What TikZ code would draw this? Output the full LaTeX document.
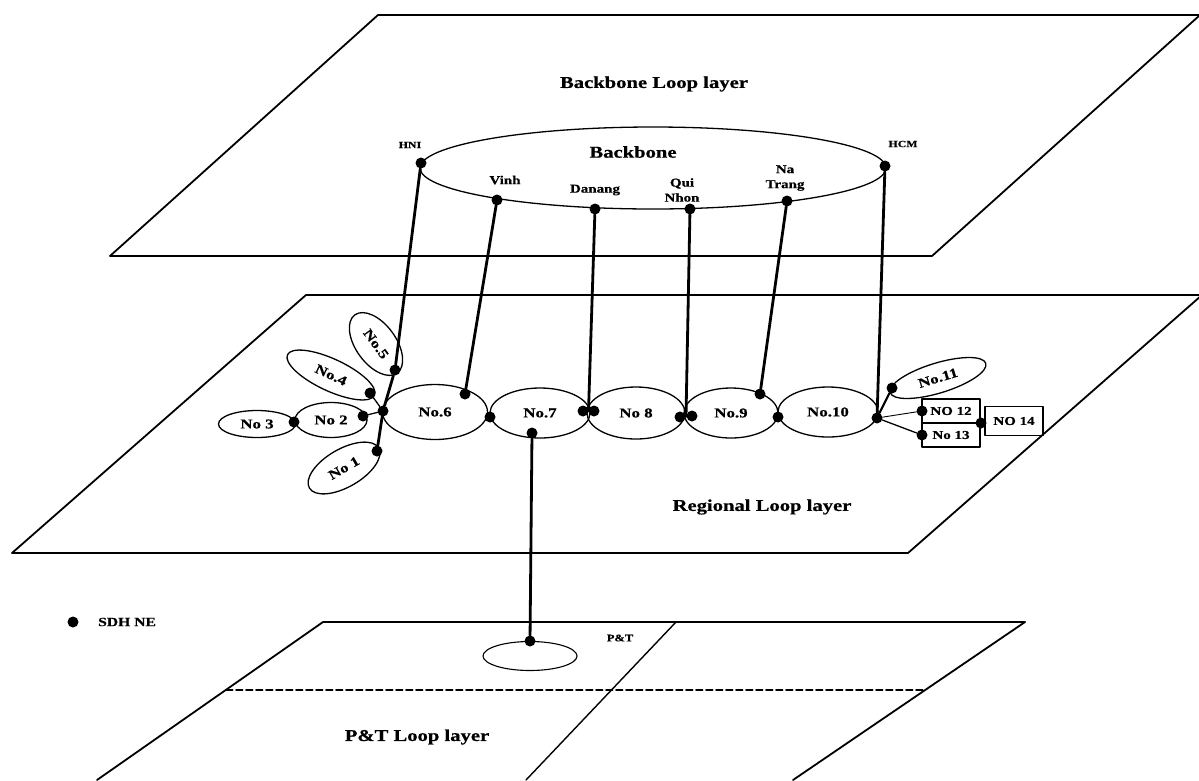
\documentclass[tikz,border=0pt]{standalone}
\usepackage{fontspec}
\setmainfont{Liberation Serif}[FakeStretch=1.25,BoldFeatures={FakeBold=0.6}]
\usetikzlibrary{shapes.geometric,calc}

\begin{document}
\begin{tikzpicture}[x=1pt,y=-1pt,line cap=round,line join=round,
  ne/.style={circle,fill=black,inner sep=0pt,minimum size=11pt},
  ring/.style={ellipse,draw,line width=1.3pt,inner sep=0pt,font=\bfseries\fontsize{13.5}{13.5}\selectfont},
  box/.style={rectangle,draw,line width=1.2pt,minimum width=58pt,inner sep=0pt,font=\bfseries\fontsize{12}{12}\selectfont},
  link/.style={line width=2.8pt},
  thinlink/.style={line width=1.3pt},
  edge/.style={line width=1.8pt},
  rim/.style={line width=1.1pt},
  city/.style={font=\bfseries\fontsize{12}{15}\selectfont,align=center,inner sep=0pt},
  title/.style={font=\bfseries\fontsize{16.5}{16.5}\selectfont,inner sep=0pt}]
  \useasboundingbox (0,0) rectangle (1199,780);
  \clip (0,0) rectangle (1199,780);
  % --- backbone layer plane ---
  \coordinate (T1) at (110,256);
  \coordinate (T2) at (932,256);
  \coordinate (T3) at (1200,15);
  \coordinate (T4) at (378,15);
  \draw[edge] (T1) -- (T4);
  \draw[edge] (T2) -- (T3);
  \draw[rim] (T4) -- (T3);
  \draw[rim] (T1) -- (T2);
  \node[title] (toptitle) at (654,84) {Backbone Loop layer};
  % --- regional layer plane ---
  \coordinate (M1) at (12,553);
  \coordinate (M2) at (908,553);
  \coordinate (M3) at (1202,295);
  \coordinate (M4) at (306,295);
  \draw[edge] (M1) -- (M4);
  \draw[edge] (M2) -- (M3);
  \draw[rim] (M4) -- (M3);
  \draw[rim] (M1) -- (M2);
  \node[title] (midtitle) at (762,507) {Regional Loop layer};
  % --- P&T layer plane ---
  \coordinate (B1) at (97,780);
  \coordinate (B2) at (323,622);
  \coordinate (B3) at (1025,622);
  \coordinate (B4) at (793,780);
  \coordinate (B5) at (676,622);
  \coordinate (B6) at (526,780);
  \draw[edge] (B1) -- (B2);
  \draw[edge] (B3) -- (B4);
  \draw[edge,line width=1.4pt] (B5) -- (B6);
  \draw[rim] (B2) -- (B3);
  \draw[rim,dashed,dash pattern=on 7pt off 3pt] ($(B2)!0.43!(B1)$) -- ($(B3)!0.43!(B4)$);
  \node[title] (bottitle) at (417,737) {P\&T Loop layer};
  % --- backbone ring ---
  \node[ellipse,draw,line width=1.3pt,minimum width=466pt,minimum height=82pt] (bb) at (653,168) {};
  \node[title] (bblabel) at (633,152) {Backbone};
  \node[ne] (hni) at (421,163) {};
  \node[ne] (hcm) at (885,166) {};
  \node[ne] (vinh) at (497,200) {};
  \node[ne] (danang) at (595,209) {};
  \node[ne] (quinhon) at (690,209) {};
  \node[ne] (natrang) at (787,201) {};
  \node[city,font=\bfseries\fontsize{9.5}{9.5}\selectfont] at (410,145) {HNI};
  \node[city,font=\bfseries\fontsize{9.5}{9.5}\selectfont] at (903,144) {HCM};
  \node[city] at (505,180) {Vinh};
  \node[city] at (595,190) {Danang};
  \node[city] at (682,190) {Qui\\Nhon};
  \node[city] at (785,178) {Na\\Trang};
  % --- regional rings ---
  \node[ring,minimum width=80pt,minimum height=38pt,rotate=30] (n1) at (344,468) {No 1};
  \node[ring,minimum width=72pt,minimum height=35pt] (n2) at (331,420) {No 2};
  \node[ring,minimum width=77pt,minimum height=27pt] (n3) at (257,424) {No 3};
  \node[ring,minimum width=96pt,minimum height=32pt,rotate=-25] (n4) at (331,375) {No.4};
  \node[ring,minimum width=72pt,minimum height=40pt,rotate=-54] (n5) at (376,344) {No.5};
  \node[ring,minimum width=105pt,minimum height=55pt] (n6) at (435,412) {No.6};
  \node[ring,minimum width=100pt,minimum height=50pt] (n7) at (540,413) {No.7};
  \node[ring,minimum width=98pt,minimum height=52pt] (n8) at (636,413) {No 8};
  \node[ring,minimum width=94pt,minimum height=50pt] (n9) at (731,413) {No.9};
  \node[ring,minimum width=100pt,minimum height=50pt] (n10) at (828,412) {No.10};
  \node[ring,minimum width=100pt,minimum height=30pt,rotate=17] (n11) at (938,378) {No.11};
  \node[box,minimum height=24pt] (n12) at (951,411) {NO 12};
  \node[box,minimum height=24pt] (n13) at (951,435) {No 13};
  \node[box,minimum height=29pt] (n14) at (1014,421) {NO 14};
  % --- regional NEs ---
  \node[ne] (j1) at (383,411) {};
  \node[ne] (d5) at (395,370) {};
  \node[ne] (d4) at (370,393) {};
  \node[ne] (d2) at (363,416) {};
  \node[ne] (d23) at (294,422) {};
  \node[ne] (d1) at (377,451) {};
  \node[ne] (d6) at (465,394) {};
  \node[ne] (j67) at (490,417) {};
  \node[ne] (d7a) at (583,411) {};
  \node[ne] (d7b) at (594,411) {};
  \node[ne] (d7) at (532,433) {};
  \node[ne] (d8a) at (680,417) {};
  \node[ne] (d8b) at (692,416) {};
  \node[ne] (d9) at (760,394) {};
  \node[ne] (j910) at (778,417) {};
  \node[ne] (j10) at (877,418) {};
  \node[ne] (d11) at (892,388) {};
  \node[ne] (d12) at (922,411) {};
  \node[ne] (d13) at (922,435) {};
  \node[ne] (d14) at (981,423) {};
  % --- P&T ring ---
  \node[ellipse,draw,line width=1.1pt,minimum width=94pt,minimum height=29pt] (pt) at (530,656) {};
  \node[ne] (ptd) at (530,641) {};
  \node[city,font=\bfseries\fontsize{10}{10}\selectfont] at (620,638) {P\&T};
  % --- inter-layer links ---
  \draw[link] (hni) -- (d5) -- (j1) -- (d1);
  \draw[link] (vinh) -- (d6);
  \draw[link] (danang) -- ($(d7a)!0.5!(d7b)$);
  \draw[link] (quinhon) -- ($(d8a)!0.5!(d8b)$);
  \draw[link] (natrang) -- (d9);
  \draw[link] (hcm) -- (j10);
  \draw[link] (d7) -- (ptd);
  % --- local links ---
  \draw[thinlink] (d4) -- (j1);
  \draw[thinlink] (d2) -- (j1);
  \draw[link,line width=2.2pt] (j10) -- (d11);
  \draw[line width=0.9pt] (j10) -- (d12);
  \draw[thinlink] (j10) -- (d13);
  % --- legend ---
  \node[ne] (key) at (73,622) {};
  \node[city,anchor=west,font=\bfseries\fontsize{12.5}{12.5}\selectfont] (keytext) at (98,622) {SDH NE};
\end{tikzpicture}
\end{document}
